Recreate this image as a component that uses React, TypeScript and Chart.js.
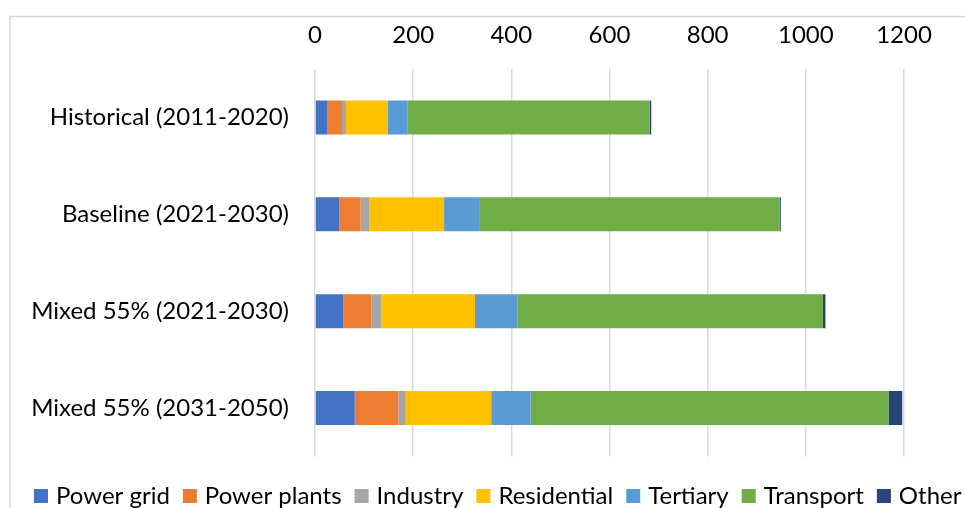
import React, { useEffect, useRef } from 'react';
import { Chart, registerables } from 'chart.js';

Chart.register(...registerables);

const categories = [
  'Historical (2011-2020)',
  'Baseline (2021-2030)',
  'Mixed 55% (2021-2030)',
  'Mixed 55% (2031-2050)',
];
const powerGrid = [24.5, 50, 58, 81];
const powerPlants = [30.5, 43, 57, 88.5];
const industry = [8, 18, 20, 15.5];
const residential = [85, 152, 191, 174];
const tertiary = [41, 73, 87, 80.5];
const transport = [493, 611, 622, 729];
const other = [3, 2, 5, 28];
const xTicks = [0, 200, 400, 600, 800, 1000, 1200];

const seriesNames = ['Power grid', 'Power plants', 'Industry', 'Residential', 'Tertiary', 'Transport', 'Other'];
const seriesValues = [powerGrid, powerPlants, industry, residential, tertiary, transport, other];
const seriesColors = ['#4472C4', '#ED7D31', '#A5A5A5', '#FFC000', '#5B9BD5', '#70AD47', '#264478'];

const FONT = 'Lato';
const FS = 24;
const LEGEND_FS = 24;
const CANVAS_W = 1040;
const CANVAS_H = 508;

const framePlugin = {
  id: 'frame',
  beforeDraw(chart: any) {
    const { ctx, width, height } = chart;
    ctx.save();
    ctx.fillStyle = '#ffffff';
    ctx.fillRect(0, 0, width, height);
    ctx.strokeStyle = '#d9d9d9';
    ctx.lineWidth = 1.5;
    ctx.beginPath();
    ctx.moveTo(10, height + 10);
    ctx.lineTo(10, 16.5);
    ctx.lineTo(width + 10, 16.5);
    ctx.stroke();
    ctx.restore();
  },
};

export default function App() {
  const ref = useRef<HTMLCanvasElement | null>(null);

  useEffect(() => {
    if (!ref.current) return;
    const chart = new Chart(ref.current, {
      type: 'bar',
      data: {
        labels: categories,
        datasets: seriesNames.map((name, i) => ({
          label: name,
          data: seriesValues[i],
          backgroundColor: seriesColors[i],
          borderWidth: 0,
          barPercentage: 1,
          categoryPercentage: 0.35,
          pointStyle: 'rect',
        })),
      },
      options: {
        indexAxis: 'y',
        responsive: false,
        animation: false,
        devicePixelRatio: 1,
        layout: { padding: { left: 21, right: 0, top: 17, bottom: -10 } },
        scales: {
          x: {
            type: 'linear',
            position: 'top',
            stacked: true,
            min: 0,
            max: 1477.1,
            afterBuildTicks: (scale: any) => {
              scale.ticks = xTicks.map((v) => ({ value: v }));
            },
            afterFit: (scale: any) => {
              scale.height = 52;
            },
            grid: { color: '#d9d9d9', lineWidth: 1.5, drawTicks: false },
            border: { display: false },
            ticks: {
              padding: 19,
              color: '#000000',
              font: { family: FONT, size: FS },
              maxRotation: 0,
              autoSkip: false,
              callback: (v: any) => String(v),
            },
          },
          y: {
            type: 'category',
            stacked: true,
            afterFit: (scale: any) => {
              scale.width = 294;
            },
            grid: { display: false, drawTicks: false },
            border: { display: false },
            ticks: {
              padding: 26,
              color: '#000000',
              font: { family: FONT, size: FS },
            },
          },
        },
        plugins: {
          legend: {
            position: 'bottom',
            align: 'start',
            title: { display: true, text: '', font: { size: 5, lineHeight: 2.1 }, padding: 0 },
            labels: {
              usePointStyle: true,
              pointStyle: 'rect',
              boxWidth: 6,
              boxHeight: 14,
              padding: 17,
              color: '#000000',
              font: { family: FONT, size: LEGEND_FS },
            },
          },
          tooltip: { enabled: false },
        },
      },
      plugins: [framePlugin],
    } as any);
    return () => chart.destroy();
  }, []);

  return (
    <div style={{ position: 'fixed', left: 0, top: 0, width: 965, height: 508, overflow: 'hidden', background: '#fff' }}>
      <canvas
        ref={ref}
        width={CANVAS_W}
        height={CANVAS_H}
        style={{ display: 'block', width: CANVAS_W, height: CANVAS_H }}
      />
    </div>
  );
}
